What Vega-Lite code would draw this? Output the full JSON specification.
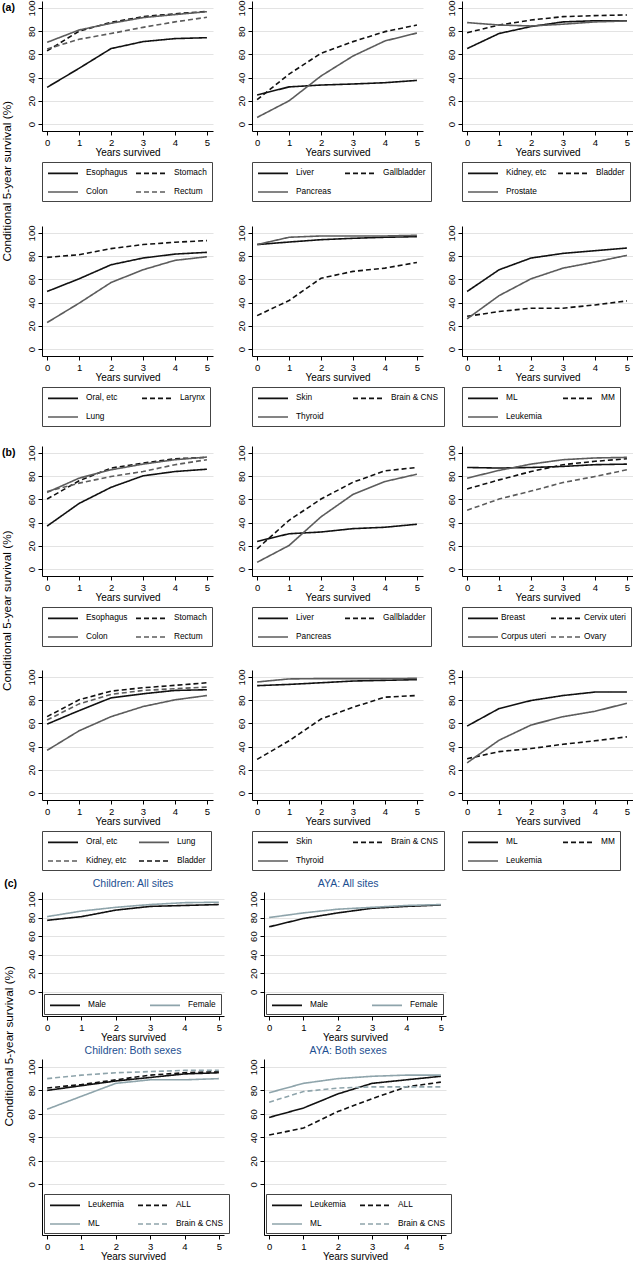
{
 "$schema": "https://vega.github.io/schema/vega-lite/v6.json",
 "padding": {"left": 2, "top": 0, "right": 0, "bottom": 0},
 "background": "white",
 "spacing": 18,
 "resolve": {"scale": {"color": "independent", "strokeDash": "independent"}},
 "config": {
  "font": "Liberation Sans",
  "view": {"stroke": null},
  "axis": {"domainColor": "#000", "tickColor": "#000", "labelColor": "#000", "titleColor": "#000", "labelFontSize": 9.5, "titleFontSize": 10, "titleFontWeight": "normal", "tickSize": 4, "labelPadding": 2, "domainWidth": 1, "tickWidth": 1, "gridColor": "#e3e3e3", "gridWidth": 1},
  "axisX": {"grid": false, "titlePadding": 1},
  "axisY": {"grid": true, "labelAngle": 270},
  "legend": {"labelFontSize": 8.3, "labelColor": "#000", "symbolSize": 100, "symbolStrokeWidth": 1.6, "strokeColor": "#444", "fillColor": "#fff", "padding": 5, "rowPadding": 9, "labelOffset": 27, "offset": 4, "labelLimit": 200},
  "line": {"strokeWidth": 1.6}
 },
 "datasets": {
  "a1": [
   {"s":"Esophagus","x":0,"y":31.6},{"s":"Esophagus","x":1,"y":48},{"s":"Esophagus","x":2,"y":65},{"s":"Esophagus","x":3,"y":71},{"s":"Esophagus","x":4,"y":73.6},{"s":"Esophagus","x":5,"y":74.4},
   {"s":"Stomach","x":0,"y":63},{"s":"Stomach","x":1,"y":80},{"s":"Stomach","x":2,"y":87.6},{"s":"Stomach","x":3,"y":92.5},{"s":"Stomach","x":4,"y":95},{"s":"Stomach","x":5,"y":97},
   {"s":"Colon","x":0,"y":70.4},{"s":"Colon","x":1,"y":81},{"s":"Colon","x":2,"y":86.8},{"s":"Colon","x":3,"y":91.7},{"s":"Colon","x":4,"y":94.3},{"s":"Colon","x":5,"y":96.8},
   {"s":"Rectum","x":0,"y":64.7},{"s":"Rectum","x":1,"y":73},{"s":"Rectum","x":2,"y":78},{"s":"Rectum","x":3,"y":83.3},{"s":"Rectum","x":4,"y":88},{"s":"Rectum","x":5,"y":92}
  ],
  "a2": [
   {"s":"Liver","x":0,"y":25},{"s":"Liver","x":1,"y":32},{"s":"Liver","x":2,"y":33.6},{"s":"Liver","x":3,"y":34.5},{"s":"Liver","x":4,"y":35.6},{"s":"Liver","x":5,"y":37.6},
   {"s":"Gallbladder","x":0,"y":21},{"s":"Gallbladder","x":1,"y":43},{"s":"Gallbladder","x":2,"y":61},{"s":"Gallbladder","x":3,"y":71},{"s":"Gallbladder","x":4,"y":79.6},{"s":"Gallbladder","x":5,"y":85.3},
   {"s":"Pancreas","x":0,"y":5.7},{"s":"Pancreas","x":1,"y":20},{"s":"Pancreas","x":2,"y":41.4},{"s":"Pancreas","x":3,"y":58.6},{"s":"Pancreas","x":4,"y":71.6},{"s":"Pancreas","x":5,"y":78.4}
  ],
  "a3": [
   {"s":"Kidney, etc","x":0,"y":65},{"s":"Kidney, etc","x":1,"y":78},{"s":"Kidney, etc","x":2,"y":84},{"s":"Kidney, etc","x":3,"y":88},{"s":"Kidney, etc","x":4,"y":89},{"s":"Kidney, etc","x":5,"y":89},
   {"s":"Bladder","x":0,"y":78.7},{"s":"Bladder","x":1,"y":85.3},{"s":"Bladder","x":2,"y":89.6},{"s":"Bladder","x":3,"y":92.5},{"s":"Bladder","x":4,"y":93.4},{"s":"Bladder","x":5,"y":94},
   {"s":"Prostate","x":0,"y":87.4},{"s":"Prostate","x":1,"y":85.3},{"s":"Prostate","x":2,"y":84.5},{"s":"Prostate","x":3,"y":86},{"s":"Prostate","x":4,"y":88},{"s":"Prostate","x":5,"y":88.8}
  ],
  "a4": [
   {"s":"Oral, etc","x":0,"y":49.6},{"s":"Oral, etc","x":1,"y":60.5},{"s":"Oral, etc","x":2,"y":72.6},{"s":"Oral, etc","x":3,"y":78.4},{"s":"Oral, etc","x":4,"y":81.8},{"s":"Oral, etc","x":5,"y":83.3},
   {"s":"Larynx","x":0,"y":79},{"s":"Larynx","x":1,"y":81.3},{"s":"Larynx","x":2,"y":86.5},{"s":"Larynx","x":3,"y":90},{"s":"Larynx","x":4,"y":92},{"s":"Larynx","x":5,"y":93.4},
   {"s":"Lung","x":0,"y":22.8},{"s":"Lung","x":1,"y":39.5},{"s":"Lung","x":2,"y":57.3},{"s":"Lung","x":3,"y":68.3},{"s":"Lung","x":4,"y":76.4},{"s":"Lung","x":5,"y":79.5}
  ],
  "a5": [
   {"s":"Skin","x":0,"y":90},{"s":"Skin","x":1,"y":92.2},{"s":"Skin","x":2,"y":94.2},{"s":"Skin","x":3,"y":95.4},{"s":"Skin","x":4,"y":96.3},{"s":"Skin","x":5,"y":96.8},
   {"s":"Brain & CNS","x":0,"y":28.8},{"s":"Brain & CNS","x":1,"y":41.8},{"s":"Brain & CNS","x":2,"y":61},{"s":"Brain & CNS","x":3,"y":66.9},{"s":"Brain & CNS","x":4,"y":69.7},{"s":"Brain & CNS","x":5,"y":74.6},
   {"s":"Thyroid","x":0,"y":90},{"s":"Thyroid","x":1,"y":96.3},{"s":"Thyroid","x":2,"y":97.4},{"s":"Thyroid","x":3,"y":97.4},{"s":"Thyroid","x":4,"y":97.4},{"s":"Thyroid","x":5,"y":98}
  ],
  "a6": [
   {"s":"ML","x":0,"y":49.6},{"s":"ML","x":1,"y":68.3},{"s":"ML","x":2,"y":78.4},{"s":"ML","x":3,"y":82.4},{"s":"ML","x":4,"y":84.7},{"s":"ML","x":5,"y":87},
   {"s":"MM","x":0,"y":28.2},{"s":"MM","x":1,"y":32.3},{"s":"MM","x":2,"y":35.2},{"s":"MM","x":3,"y":35.2},{"s":"MM","x":4,"y":38},{"s":"MM","x":5,"y":41.5},
   {"s":"Leukemia","x":0,"y":26},{"s":"Leukemia","x":1,"y":46},{"s":"Leukemia","x":2,"y":60.5},{"s":"Leukemia","x":3,"y":69.7},{"s":"Leukemia","x":4,"y":75},{"s":"Leukemia","x":5,"y":80.7}
  ],
  "b1": [
   {"s":"Esophagus","x":0,"y":37},{"s":"Esophagus","x":1,"y":56.5},{"s":"Esophagus","x":2,"y":70.4},{"s":"Esophagus","x":3,"y":80.3},{"s":"Esophagus","x":4,"y":84},{"s":"Esophagus","x":5,"y":86},
   {"s":"Stomach","x":0,"y":60.3},{"s":"Stomach","x":1,"y":76},{"s":"Stomach","x":2,"y":87},{"s":"Stomach","x":3,"y":91.3},{"s":"Stomach","x":4,"y":95},{"s":"Stomach","x":5,"y":96.2},
   {"s":"Colon","x":0,"y":66},{"s":"Colon","x":1,"y":78.3},{"s":"Colon","x":2,"y":85.5},{"s":"Colon","x":3,"y":90.4},{"s":"Colon","x":4,"y":94.2},{"s":"Colon","x":5,"y":96.5},
   {"s":"Rectum","x":0,"y":66.7},{"s":"Rectum","x":1,"y":74},{"s":"Rectum","x":2,"y":79.7},{"s":"Rectum","x":3,"y":84},{"s":"Rectum","x":4,"y":89.9},{"s":"Rectum","x":5,"y":94.2}
  ],
  "b2": [
   {"s":"Liver","x":0,"y":23.8},{"s":"Liver","x":1,"y":30.4},{"s":"Liver","x":2,"y":31.9},{"s":"Liver","x":3,"y":34.8},{"s":"Liver","x":4,"y":36},{"s":"Liver","x":5,"y":38.6},
   {"s":"Gallbladder","x":0,"y":17.4},{"s":"Gallbladder","x":1,"y":42},{"s":"Gallbladder","x":2,"y":60.3},{"s":"Gallbladder","x":3,"y":74.8},{"s":"Gallbladder","x":4,"y":84.6},{"s":"Gallbladder","x":5,"y":87.5},
   {"s":"Pancreas","x":0,"y":5.8},{"s":"Pancreas","x":1,"y":20.3},{"s":"Pancreas","x":2,"y":45},{"s":"Pancreas","x":3,"y":64.3},{"s":"Pancreas","x":4,"y":75.4},{"s":"Pancreas","x":5,"y":81.7}
  ],
  "b3": [
   {"s":"Breast","x":0,"y":87.5},{"s":"Breast","x":1,"y":87},{"s":"Breast","x":2,"y":87.5},{"s":"Breast","x":3,"y":88.4},{"s":"Breast","x":4,"y":89.9},{"s":"Breast","x":5,"y":90.4},
   {"s":"Cervix uteri","x":0,"y":69},{"s":"Cervix uteri","x":1,"y":76.8},{"s":"Cervix uteri","x":2,"y":84},{"s":"Cervix uteri","x":3,"y":89.9},{"s":"Cervix uteri","x":4,"y":92.8},{"s":"Cervix uteri","x":5,"y":95},
   {"s":"Corpus uteri","x":0,"y":78.3},{"s":"Corpus uteri","x":1,"y":85},{"s":"Corpus uteri","x":2,"y":90.4},{"s":"Corpus uteri","x":3,"y":94.2},{"s":"Corpus uteri","x":4,"y":95.7},{"s":"Corpus uteri","x":5,"y":96.2},
   {"s":"Ovary","x":0,"y":50.7},{"s":"Ovary","x":1,"y":60.3},{"s":"Ovary","x":2,"y":67.2},{"s":"Ovary","x":3,"y":74.5},{"s":"Ovary","x":4,"y":79.7},{"s":"Ovary","x":5,"y":85.5}
  ],
  "b4": [
   {"s":"Oral, etc","x":0,"y":59.4},{"s":"Oral, etc","x":1,"y":71},{"s":"Oral, etc","x":2,"y":82},{"s":"Oral, etc","x":3,"y":85.5},{"s":"Oral, etc","x":4,"y":88.4},{"s":"Oral, etc","x":5,"y":89},
   {"s":"Lung","x":0,"y":36.8},{"s":"Lung","x":1,"y":53.6},{"s":"Lung","x":2,"y":65.8},{"s":"Lung","x":3,"y":74.5},{"s":"Lung","x":4,"y":80.3},{"s":"Lung","x":5,"y":84},
   {"s":"Kidney, etc","x":0,"y":62.9},{"s":"Kidney, etc","x":1,"y":76.8},{"s":"Kidney, etc","x":2,"y":85},{"s":"Kidney, etc","x":3,"y":88.4},{"s":"Kidney, etc","x":4,"y":89.9},{"s":"Kidney, etc","x":5,"y":91.3},
   {"s":"Bladder","x":0,"y":65.8},{"s":"Bladder","x":1,"y":80.3},{"s":"Bladder","x":2,"y":87.8},{"s":"Bladder","x":3,"y":90.7},{"s":"Bladder","x":4,"y":92.8},{"s":"Bladder","x":5,"y":95}
  ],
  "b5": [
   {"s":"Skin","x":0,"y":92.5},{"s":"Skin","x":1,"y":93.6},{"s":"Skin","x":2,"y":95},{"s":"Skin","x":3,"y":96.5},{"s":"Skin","x":4,"y":97.1},{"s":"Skin","x":5,"y":97.7},
   {"s":"Brain & CNS","x":0,"y":29},{"s":"Brain & CNS","x":1,"y":45},{"s":"Brain & CNS","x":2,"y":63.8},{"s":"Brain & CNS","x":3,"y":73.9},{"s":"Brain & CNS","x":4,"y":82.6},{"s":"Brain & CNS","x":5,"y":84},
   {"s":"Thyroid","x":0,"y":95.7},{"s":"Thyroid","x":1,"y":98.3},{"s":"Thyroid","x":2,"y":98.6},{"s":"Thyroid","x":3,"y":98.6},{"s":"Thyroid","x":4,"y":98.6},{"s":"Thyroid","x":5,"y":98.8}
  ],
  "b6": [
   {"s":"ML","x":0,"y":57.7},{"s":"ML","x":1,"y":72.8},{"s":"ML","x":2,"y":79.7},{"s":"ML","x":3,"y":84},{"s":"ML","x":4,"y":87},{"s":"ML","x":5,"y":87},
   {"s":"MM","x":0,"y":29.6},{"s":"MM","x":1,"y":35.7},{"s":"MM","x":2,"y":38.3},{"s":"MM","x":3,"y":42},{"s":"MM","x":4,"y":45},{"s":"MM","x":5,"y":48.4},
   {"s":"Leukemia","x":0,"y":26},{"s":"Leukemia","x":1,"y":45.5},{"s":"Leukemia","x":2,"y":58.6},{"s":"Leukemia","x":3,"y":65.8},{"s":"Leukemia","x":4,"y":70.4},{"s":"Leukemia","x":5,"y":77.4}
  ],
  "c1": [
   {"s":"Male","x":0,"y":77},{"s":"Male","x":1,"y":81},{"s":"Male","x":2,"y":88},{"s":"Male","x":3,"y":92},{"s":"Male","x":4,"y":93},{"s":"Male","x":5,"y":94},
   {"s":"Female","x":0,"y":81},{"s":"Female","x":1,"y":87},{"s":"Female","x":2,"y":91},{"s":"Female","x":3,"y":94},{"s":"Female","x":4,"y":96},{"s":"Female","x":5,"y":96.5}
  ],
  "c2": [
   {"s":"Male","x":0,"y":70},{"s":"Male","x":1,"y":79},{"s":"Male","x":2,"y":85},{"s":"Male","x":3,"y":90},{"s":"Male","x":4,"y":92},{"s":"Male","x":5,"y":93.5},
   {"s":"Female","x":0,"y":80},{"s":"Female","x":1,"y":85},{"s":"Female","x":2,"y":89},{"s":"Female","x":3,"y":91},{"s":"Female","x":4,"y":93},{"s":"Female","x":5,"y":94}
  ],
  "c3": [
   {"s":"Leukemia","x":0,"y":80},{"s":"Leukemia","x":1,"y":84},{"s":"Leukemia","x":2,"y":88},{"s":"Leukemia","x":3,"y":91},{"s":"Leukemia","x":4,"y":94},{"s":"Leukemia","x":5,"y":95},
   {"s":"ALL","x":0,"y":82},{"s":"ALL","x":1,"y":85},{"s":"ALL","x":2,"y":89},{"s":"ALL","x":3,"y":93},{"s":"ALL","x":4,"y":95},{"s":"ALL","x":5,"y":96},
   {"s":"ML","x":0,"y":64},{"s":"ML","x":1,"y":75},{"s":"ML","x":2,"y":86},{"s":"ML","x":3,"y":89},{"s":"ML","x":4,"y":89},{"s":"ML","x":5,"y":90},
   {"s":"Brain & CNS","x":0,"y":90},{"s":"Brain & CNS","x":1,"y":93},{"s":"Brain & CNS","x":2,"y":95},{"s":"Brain & CNS","x":3,"y":96},{"s":"Brain & CNS","x":4,"y":97},{"s":"Brain & CNS","x":5,"y":97}
  ],
  "c4": [
   {"s":"Leukemia","x":0,"y":57},{"s":"Leukemia","x":1,"y":65},{"s":"Leukemia","x":2,"y":77},{"s":"Leukemia","x":3,"y":86},{"s":"Leukemia","x":4,"y":89},{"s":"Leukemia","x":5,"y":92},
   {"s":"ALL","x":0,"y":42},{"s":"ALL","x":1,"y":48},{"s":"ALL","x":2,"y":62},{"s":"ALL","x":3,"y":73},{"s":"ALL","x":4,"y":83},{"s":"ALL","x":5,"y":87},
   {"s":"ML","x":0,"y":78},{"s":"ML","x":1,"y":86},{"s":"ML","x":2,"y":90},{"s":"ML","x":3,"y":92},{"s":"ML","x":4,"y":93},{"s":"ML","x":5,"y":93},
   {"s":"Brain & CNS","x":0,"y":70},{"s":"Brain & CNS","x":1,"y":79},{"s":"Brain & CNS","x":2,"y":82},{"s":"Brain & CNS","x":3,"y":83},{"s":"Brain & CNS","x":4,"y":83},{"s":"Brain & CNS","x":5,"y":83}
  ],
  "one": [{"label": "x"}]
 },
 "vconcat": [
  {
   "spacing": 23,
   "title": {"text": "Conditional 5-year survival (%)", "orient": "left", "anchor": "middle", "fontSize": 11.8, "fontWeight": "normal", "color": "#000", "offset": -12, "dx": 32},
   "resolve": {"scale": {"color": "independent", "strokeDash": "independent"}},
   "vconcat": [
    {"bounds": "flush", "spacing": 39, "resolve": {"scale": {"color": "independent", "strokeDash": "independent"}}, "hconcat": [
     {"width": 171, "height": 130, "layer": [
      {"data": {"name": "a1"}, "mark": "line", "encoding": {
       "x": {"field": "x", "type": "quantitative", "scale": {"domain": [-0.16, 5.19], "nice": false, "zero": false}, "axis": {"values": [0,1,2,3,4,5], "title": "Years survived"}},
       "y": {"field": "y", "type": "quantitative", "scale": {"domain": [-6, 106], "nice": false, "zero": false}, "axis": {"values": [0,20,40,60,80,100], "title": null}},
       "strokeWidth": {"condition": {"test": "indexof(['Esophagus','Stomach'], datum.s) >= 0", "value": 2}, "value": 1.3},
       "color": {"field": "s", "type": "nominal", "scale": {"domain": ["Esophagus","Stomach","Colon","Rectum"], "range": ["#111","#111","#5c5c5c","#5c5c5c"]}, "legend": {"title": null, "orient": "bottom", "direction": "horizontal", "columns": 2, "columnPadding": 4, "symbolType": "M-1,0H5"}},
       "strokeDash": {"field": "s", "type": "nominal", "scale": {"domain": ["Esophagus","Stomach","Colon","Rectum"], "range": [[1,0],[5,3],[1,0],[5,3]]}, "legend": {"title": null, "orient": "bottom", "direction": "horizontal", "columns": 2, "columnPadding": 4, "symbolType": "M-1,0H5"}}
      }},
      {"data": {"name": "one"}, "mark": {"type": "text", "text": "(a)", "fontWeight": "bold", "fontSize": 10.5, "align": "left", "baseline": "middle"}, "encoding": {
       "x": {"datum": -1.41, "type": "quantitative", "scale": {"domain": [-0.16, 5.19], "nice": false, "zero": false}, "axis": {"values": [0,1,2,3,4,5], "title": "Years survived"}},
       "y": {"datum": 100, "type": "quantitative", "scale": {"domain": [-6, 106], "nice": false, "zero": false}, "axis": {"values": [0,20,40,60,80,100], "title": null}}
      }}
     ]},
     {"width": 171, "height": 130, "data": {"name": "a2"}, "mark": "line", "encoding": {
       "x": {"field": "x", "type": "quantitative", "scale": {"domain": [-0.16, 5.19], "nice": false, "zero": false}, "axis": {"values": [0,1,2,3,4,5], "title": "Years survived"}},
       "y": {"field": "y", "type": "quantitative", "scale": {"domain": [-6, 106], "nice": false, "zero": false}, "axis": {"values": [0,20,40,60,80,100], "title": null}},
       "strokeWidth": {"condition": {"test": "indexof(['Liver','Gallbladder'], datum.s) >= 0", "value": 2}, "value": 1.3},
       "color": {"field": "s", "type": "nominal", "scale": {"domain": ["Liver","Gallbladder","Pancreas"], "range": ["#111","#111","#5c5c5c"]}, "legend": {"title": null, "orient": "bottom", "direction": "horizontal", "columns": 2, "columnPadding": 9, "symbolType": "M-1,0H5"}},
       "strokeDash": {"field": "s", "type": "nominal", "scale": {"domain": ["Liver","Gallbladder","Pancreas"], "range": [[1,0],[5,3],[1,0]]}, "legend": {"title": null, "orient": "bottom", "direction": "horizontal", "columns": 2, "columnPadding": 9, "symbolType": "M-1,0H5"}}
     }},
     {"width": 171, "height": 130, "data": {"name": "a3"}, "mark": "line", "encoding": {
       "x": {"field": "x", "type": "quantitative", "scale": {"domain": [-0.16, 5.19], "nice": false, "zero": false}, "axis": {"values": [0,1,2,3,4,5], "title": "Years survived"}},
       "y": {"field": "y", "type": "quantitative", "scale": {"domain": [-6, 106], "nice": false, "zero": false}, "axis": {"values": [0,20,40,60,80,100], "title": null}},
       "strokeWidth": {"condition": {"test": "indexof(['Kidney, etc','Bladder'], datum.s) >= 0", "value": 2}, "value": 1.3},
       "color": {"field": "s", "type": "nominal", "scale": {"domain": ["Kidney, etc","Bladder","Prostate"], "range": ["#111","#111","#5c5c5c"]}, "legend": {"title": null, "orient": "bottom", "direction": "horizontal", "columns": 2, "columnPadding": 7, "symbolType": "M-1,0H5"}},
       "strokeDash": {"field": "s", "type": "nominal", "scale": {"domain": ["Kidney, etc","Bladder","Prostate"], "range": [[1,0],[5,3],[1,0]]}, "legend": {"title": null, "orient": "bottom", "direction": "horizontal", "columns": 2, "columnPadding": 7, "symbolType": "M-1,0H5"}}
     }}
    ]},
    {"bounds": "flush", "spacing": 39, "resolve": {"scale": {"color": "independent", "strokeDash": "independent"}}, "hconcat": [
     {"width": 171, "height": 130, "data": {"name": "a4"}, "mark": "line", "encoding": {
       "x": {"field": "x", "type": "quantitative", "scale": {"domain": [-0.16, 5.19], "nice": false, "zero": false}, "axis": {"values": [0,1,2,3,4,5], "title": "Years survived"}},
       "y": {"field": "y", "type": "quantitative", "scale": {"domain": [-6, 106], "nice": false, "zero": false}, "axis": {"values": [0,20,40,60,80,100], "title": null}},
       "strokeWidth": {"condition": {"test": "indexof(['Oral, etc','Larynx'], datum.s) >= 0", "value": 2}, "value": 1.3},
       "color": {"field": "s", "type": "nominal", "scale": {"domain": ["Oral, etc","Larynx","Lung"], "range": ["#111","#111","#5c5c5c"]}, "legend": {"title": null, "orient": "bottom", "direction": "horizontal", "columns": 2, "columnPadding": 20, "symbolType": "M-1,0H5"}},
       "strokeDash": {"field": "s", "type": "nominal", "scale": {"domain": ["Oral, etc","Larynx","Lung"], "range": [[1,0],[5,3],[1,0]]}, "legend": {"title": null, "orient": "bottom", "direction": "horizontal", "columns": 2, "columnPadding": 20, "symbolType": "M-1,0H5"}}
     }},
     {"width": 171, "height": 130, "data": {"name": "a5"}, "mark": "line", "encoding": {
       "x": {"field": "x", "type": "quantitative", "scale": {"domain": [-0.16, 5.19], "nice": false, "zero": false}, "axis": {"values": [0,1,2,3,4,5], "title": "Years survived"}},
       "y": {"field": "y", "type": "quantitative", "scale": {"domain": [-6, 106], "nice": false, "zero": false}, "axis": {"values": [0,20,40,60,80,100], "title": null}},
       "strokeWidth": {"condition": {"test": "indexof(['Skin','Brain & CNS'], datum.s) >= 0", "value": 2}, "value": 1.3},
       "color": {"field": "s", "type": "nominal", "scale": {"domain": ["Skin","Brain & CNS","Thyroid"], "range": ["#111","#111","#5c5c5c"]}, "legend": {"title": null, "orient": "bottom", "direction": "horizontal", "columns": 2, "columnPadding": 25, "symbolType": "M-1,0H5"}},
       "strokeDash": {"field": "s", "type": "nominal", "scale": {"domain": ["Skin","Brain & CNS","Thyroid"], "range": [[1,0],[5,3],[1,0]]}, "legend": {"title": null, "orient": "bottom", "direction": "horizontal", "columns": 2, "columnPadding": 25, "symbolType": "M-1,0H5"}}
     }},
     {"width": 171, "height": 130, "data": {"name": "a6"}, "mark": "line", "encoding": {
       "x": {"field": "x", "type": "quantitative", "scale": {"domain": [-0.16, 5.19], "nice": false, "zero": false}, "axis": {"values": [0,1,2,3,4,5], "title": "Years survived"}},
       "y": {"field": "y", "type": "quantitative", "scale": {"domain": [-6, 106], "nice": false, "zero": false}, "axis": {"values": [0,20,40,60,80,100], "title": null}},
       "strokeWidth": {"condition": {"test": "indexof(['ML','MM'], datum.s) >= 0", "value": 2}, "value": 1.3},
       "color": {"field": "s", "type": "nominal", "scale": {"domain": ["ML","MM","Leukemia"], "range": ["#111","#111","#5c5c5c"]}, "legend": {"title": null, "orient": "bottom", "direction": "horizontal", "columns": 2, "columnPadding": 17, "symbolType": "M-1,0H5"}},
       "strokeDash": {"field": "s", "type": "nominal", "scale": {"domain": ["ML","MM","Leukemia"], "range": [[1,0],[5,3],[1,0]]}, "legend": {"title": null, "orient": "bottom", "direction": "horizontal", "columns": 2, "columnPadding": 17, "symbolType": "M-1,0H5"}}
     }}
    ]}
   ]
  },
  {
   "spacing": 8,
   "resolve": {"scale": {"color": "independent", "strokeDash": "independent"}},
   "vconcat": [
    {
     "spacing": 22,
     "title": {"text": "Conditional 5-year survival (%)", "orient": "left", "anchor": "middle", "fontSize": 11.8, "fontWeight": "normal", "color": "#000", "offset": -12, "dx": 47},
     "resolve": {"scale": {"color": "independent", "strokeDash": "independent"}},
     "vconcat": [
      {"bounds": "flush", "spacing": 39, "resolve": {"scale": {"color": "independent", "strokeDash": "independent"}}, "hconcat": [
       {"width": 171, "height": 130, "layer": [
        {"data": {"name": "b1"}, "mark": "line", "encoding": {
         "x": {"field": "x", "type": "quantitative", "scale": {"domain": [-0.16, 5.19], "nice": false, "zero": false}, "axis": {"values": [0,1,2,3,4,5], "title": "Years survived"}},
         "y": {"field": "y", "type": "quantitative", "scale": {"domain": [-6, 106], "nice": false, "zero": false}, "axis": {"values": [0,20,40,60,80,100], "title": null}},
         "strokeWidth": {"condition": {"test": "indexof(['Esophagus','Stomach'], datum.s) >= 0", "value": 2}, "value": 1.3},
         "color": {"field": "s", "type": "nominal", "scale": {"domain": ["Esophagus","Stomach","Colon","Rectum"], "range": ["#111","#111","#5c5c5c","#5c5c5c"]}, "legend": {"title": null, "orient": "bottom", "direction": "horizontal", "columns": 2, "columnPadding": 4, "symbolType": "M-1,0H5"}},
         "strokeDash": {"field": "s", "type": "nominal", "scale": {"domain": ["Esophagus","Stomach","Colon","Rectum"], "range": [[1,0],[5,3],[1,0],[5,3]]}, "legend": {"title": null, "orient": "bottom", "direction": "horizontal", "columns": 2, "columnPadding": 4, "symbolType": "M-1,0H5"}}
        }},
        {"data": {"name": "one"}, "mark": {"type": "text", "text": "(b)", "fontWeight": "bold", "fontSize": 10.5, "align": "left", "baseline": "middle"}, "encoding": {
         "x": {"datum": -1.41, "type": "quantitative", "scale": {"domain": [-0.16, 5.19], "nice": false, "zero": false}, "axis": {"values": [0,1,2,3,4,5], "title": "Years survived"}},
         "y": {"datum": 100, "type": "quantitative", "scale": {"domain": [-6, 106], "nice": false, "zero": false}, "axis": {"values": [0,20,40,60,80,100], "title": null}}
        }}
       ]},
       {"width": 171, "height": 130, "data": {"name": "b2"}, "mark": "line", "encoding": {
         "x": {"field": "x", "type": "quantitative", "scale": {"domain": [-0.16, 5.19], "nice": false, "zero": false}, "axis": {"values": [0,1,2,3,4,5], "title": "Years survived"}},
         "y": {"field": "y", "type": "quantitative", "scale": {"domain": [-6, 106], "nice": false, "zero": false}, "axis": {"values": [0,20,40,60,80,100], "title": null}},
         "strokeWidth": {"condition": {"test": "indexof(['Liver','Gallbladder'], datum.s) >= 0", "value": 2}, "value": 1.3},
         "color": {"field": "s", "type": "nominal", "scale": {"domain": ["Liver","Gallbladder","Pancreas"], "range": ["#111","#111","#5c5c5c"]}, "legend": {"title": null, "orient": "bottom", "direction": "horizontal", "columns": 2, "columnPadding": 9, "symbolType": "M-1,0H5"}},
         "strokeDash": {"field": "s", "type": "nominal", "scale": {"domain": ["Liver","Gallbladder","Pancreas"], "range": [[1,0],[5,3],[1,0]]}, "legend": {"title": null, "orient": "bottom", "direction": "horizontal", "columns": 2, "columnPadding": 9, "symbolType": "M-1,0H5"}}
       }},
       {"width": 171, "height": 130, "data": {"name": "b3"}, "mark": "line", "encoding": {
         "x": {"field": "x", "type": "quantitative", "scale": {"domain": [-0.16, 5.19], "nice": false, "zero": false}, "axis": {"values": [0,1,2,3,4,5], "title": "Years survived"}},
         "y": {"field": "y", "type": "quantitative", "scale": {"domain": [-6, 106], "nice": false, "zero": false}, "axis": {"values": [0,20,40,60,80,100], "title": null}},
         "strokeWidth": {"condition": {"test": "indexof(['Breast','Cervix uteri'], datum.s) >= 0", "value": 2}, "value": 1.3},
         "color": {"field": "s", "type": "nominal", "scale": {"domain": ["Breast","Cervix uteri","Corpus uteri","Ovary"], "range": ["#111","#111","#5c5c5c","#5c5c5c"]}, "legend": {"title": null, "orient": "bottom", "direction": "horizontal", "columns": 2, "columnPadding": 0, "labelOffset": 22, "symbolType": "M-1,0H5"}},
         "strokeDash": {"field": "s", "type": "nominal", "scale": {"domain": ["Breast","Cervix uteri","Corpus uteri","Ovary"], "range": [[1,0],[5,3],[1,0],[5,3]]}, "legend": {"title": null, "orient": "bottom", "direction": "horizontal", "columns": 2, "columnPadding": 0, "labelOffset": 22, "symbolType": "M-1,0H5"}}
       }}
      ]},
      {"bounds": "flush", "spacing": 39, "resolve": {"scale": {"color": "independent", "strokeDash": "independent"}}, "hconcat": [
       {"width": 171, "height": 130, "data": {"name": "b4"}, "mark": "line", "encoding": {
         "x": {"field": "x", "type": "quantitative", "scale": {"domain": [-0.16, 5.19], "nice": false, "zero": false}, "axis": {"values": [0,1,2,3,4,5], "title": "Years survived"}},
         "y": {"field": "y", "type": "quantitative", "scale": {"domain": [-6, 106], "nice": false, "zero": false}, "axis": {"values": [0,20,40,60,80,100], "title": null}},
         "strokeWidth": {"condition": {"test": "indexof(['Oral, etc','Bladder'], datum.s) >= 0", "value": 2}, "value": 1.3},
         "color": {"field": "s", "type": "nominal", "scale": {"domain": ["Oral, etc","Lung","Kidney, etc","Bladder"], "range": ["#111","#5c5c5c","#5c5c5c","#111"]}, "legend": {"title": null, "orient": "bottom", "direction": "horizontal", "columns": 2, "columnPadding": 8, "symbolType": "M-1,0H5"}},
         "strokeDash": {"field": "s", "type": "nominal", "scale": {"domain": ["Oral, etc","Lung","Kidney, etc","Bladder"], "range": [[1,0],[1,0],[5,3],[5,3]]}, "legend": {"title": null, "orient": "bottom", "direction": "horizontal", "columns": 2, "columnPadding": 8, "symbolType": "M-1,0H5"}}
       }},
       {"width": 171, "height": 130, "data": {"name": "b5"}, "mark": "line", "encoding": {
         "x": {"field": "x", "type": "quantitative", "scale": {"domain": [-0.16, 5.19], "nice": false, "zero": false}, "axis": {"values": [0,1,2,3,4,5], "title": "Years survived"}},
         "y": {"field": "y", "type": "quantitative", "scale": {"domain": [-6, 106], "nice": false, "zero": false}, "axis": {"values": [0,20,40,60,80,100], "title": null}},
         "strokeWidth": {"condition": {"test": "indexof(['Skin','Brain & CNS'], datum.s) >= 0", "value": 2}, "value": 1.3},
         "color": {"field": "s", "type": "nominal", "scale": {"domain": ["Skin","Brain & CNS","Thyroid"], "range": ["#111","#111","#5c5c5c"]}, "legend": {"title": null, "orient": "bottom", "direction": "horizontal", "columns": 2, "columnPadding": 25, "symbolType": "M-1,0H5"}},
         "strokeDash": {"field": "s", "type": "nominal", "scale": {"domain": ["Skin","Brain & CNS","Thyroid"], "range": [[1,0],[5,3],[1,0]]}, "legend": {"title": null, "orient": "bottom", "direction": "horizontal", "columns": 2, "columnPadding": 25, "symbolType": "M-1,0H5"}}
       }},
       {"width": 171, "height": 130, "data": {"name": "b6"}, "mark": "line", "encoding": {
         "x": {"field": "x", "type": "quantitative", "scale": {"domain": [-0.16, 5.19], "nice": false, "zero": false}, "axis": {"values": [0,1,2,3,4,5], "title": "Years survived"}},
         "y": {"field": "y", "type": "quantitative", "scale": {"domain": [-6, 106], "nice": false, "zero": false}, "axis": {"values": [0,20,40,60,80,100], "title": null}},
         "strokeWidth": {"condition": {"test": "indexof(['ML','MM'], datum.s) >= 0", "value": 2}, "value": 1.3},
         "color": {"field": "s", "type": "nominal", "scale": {"domain": ["ML","MM","Leukemia"], "range": ["#111","#111","#5c5c5c"]}, "legend": {"title": null, "orient": "bottom", "direction": "horizontal", "columns": 2, "columnPadding": 17, "symbolType": "M-1,0H5"}},
         "strokeDash": {"field": "s", "type": "nominal", "scale": {"domain": ["ML","MM","Leukemia"], "range": [[1,0],[5,3],[1,0]]}, "legend": {"title": null, "orient": "bottom", "direction": "horizontal", "columns": 2, "columnPadding": 17, "symbolType": "M-1,0H5"}}
       }}
      ]}
     ]
    },
    {
     "spacing": 3,
     "title": {"text": "Conditional 5-year survival (%)", "orient": "left", "anchor": "middle", "fontSize": 11.8, "fontWeight": "normal", "color": "#000", "offset": -12, "dx": 24},
     "resolve": {"scale": {"color": "independent", "strokeDash": "independent"}},
     "vconcat": [
      {"bounds": "flush", "spacing": 40, "resolve": {"scale": {"color": "independent", "strokeDash": "independent"}}, "hconcat": [
       {"width": 182, "height": 124, "layer": [
        {"data": {"name": "c1"}, "mark": "line", "encoding": {
         "x": {"field": "x", "type": "quantitative", "scale": {"domain": [-0.15, 5.15], "nice": false, "zero": false}, "axis": {"values": [0,1,2,3,4,5], "title": "Years survived"}},
         "y": {"field": "y", "type": "quantitative", "scale": {"domain": [-26, 107.5], "nice": false, "zero": false}, "axis": {"values": [0,20,40,60,80,100], "title": null}},
         "strokeWidth": {"condition": {"test": "datum.s == 'Male'", "value": 2}, "value": 1.6},
         "color": {"field": "s", "type": "nominal", "scale": {"domain": ["Male","Female"], "range": ["#111","#8ea4ab"]}, "legend": {"title": null, "orient": "bottom-left", "offset": 2, "direction": "horizontal", "columns": 2, "columnPadding": 40, "symbolType": "M-1,0H5"}},
         "strokeDash": {"field": "s", "type": "nominal", "scale": {"domain": ["Male","Female"], "range": [[1,0],[1,0]]}, "legend": {"title": null, "orient": "bottom-left", "offset": 2, "direction": "horizontal", "columns": 2, "columnPadding": 40, "symbolType": "M-1,0H5"}}
        }},
        {"data": {"name": "one"}, "mark": {"type": "text", "text": "(c)", "fontWeight": "bold", "fontSize": 10.5, "align": "left", "baseline": "middle"}, "encoding": {
         "x": {"datum": -1.25, "type": "quantitative", "scale": {"domain": [-0.15, 5.15], "nice": false, "zero": false}, "axis": {"values": [0,1,2,3,4,5], "title": "Years survived"}},
         "y": {"datum": 116, "type": "quantitative", "scale": {"domain": [-26, 107.5], "nice": false, "zero": false}, "axis": {"values": [0,20,40,60,80,100], "title": null}}
        }},
        {"data": {"name": "one"}, "mark": {"type": "text", "text": "Children: All sites", "color": "#1d4f91", "fontSize": 10.5, "align": "center", "baseline": "middle"}, "encoding": {
         "x": {"datum": 2.5, "type": "quantitative", "scale": {"domain": [-0.15, 5.15], "nice": false, "zero": false}, "axis": {"values": [0,1,2,3,4,5], "title": "Years survived"}},
         "y": {"datum": 116, "type": "quantitative", "scale": {"domain": [-26, 107.5], "nice": false, "zero": false}, "axis": {"values": [0,20,40,60,80,100], "title": null}}
        }}
       ]},
       {"width": 182, "height": 124, "layer": [
        {"data": {"name": "c2"}, "mark": "line", "encoding": {
         "x": {"field": "x", "type": "quantitative", "scale": {"domain": [-0.15, 5.15], "nice": false, "zero": false}, "axis": {"values": [0,1,2,3,4,5], "title": "Years survived"}},
         "y": {"field": "y", "type": "quantitative", "scale": {"domain": [-26, 107.5], "nice": false, "zero": false}, "axis": {"values": [0,20,40,60,80,100], "title": null}},
         "strokeWidth": {"condition": {"test": "datum.s == 'Male'", "value": 2}, "value": 1.6},
         "color": {"field": "s", "type": "nominal", "scale": {"domain": ["Male","Female"], "range": ["#111","#8ea4ab"]}, "legend": {"title": null, "orient": "bottom-left", "offset": 2, "direction": "horizontal", "columns": 2, "columnPadding": 40, "symbolType": "M-1,0H5"}},
         "strokeDash": {"field": "s", "type": "nominal", "scale": {"domain": ["Male","Female"], "range": [[1,0],[1,0]]}, "legend": {"title": null, "orient": "bottom-left", "offset": 2, "direction": "horizontal", "columns": 2, "columnPadding": 40, "symbolType": "M-1,0H5"}}
        }},
        {"data": {"name": "one"}, "mark": {"type": "text", "text": "AYA: All sites", "color": "#1d4f91", "fontSize": 10.5, "align": "center", "baseline": "middle"}, "encoding": {
         "x": {"datum": 2.3, "type": "quantitative", "scale": {"domain": [-0.15, 5.15], "nice": false, "zero": false}, "axis": {"values": [0,1,2,3,4,5], "title": "Years survived"}},
         "y": {"datum": 116, "type": "quantitative", "scale": {"domain": [-26, 107.5], "nice": false, "zero": false}, "axis": {"values": [0,20,40,60,80,100], "title": null}}
        }}
       ]}
      ]},
      {"bounds": "flush", "spacing": 40, "resolve": {"scale": {"color": "independent", "strokeDash": "independent"}}, "hconcat": [
       {"width": 182, "height": 176, "layer": [
        {"data": {"name": "c3"}, "mark": "line", "encoding": {
         "x": {"field": "x", "type": "quantitative", "scale": {"domain": [-0.15, 5.15], "nice": false, "zero": false}, "axis": {"values": [0,1,2,3,4,5], "title": "Years survived"}},
         "y": {"field": "y", "type": "quantitative", "scale": {"domain": [-43, 106.7], "nice": false, "zero": false}, "axis": {"values": [0,20,40,60,80,100], "title": null}},
         "strokeWidth": {"condition": {"test": "indexof(['Leukemia','ALL'], datum.s) >= 0", "value": 2}, "value": 1.6},
         "color": {"field": "s", "type": "nominal", "scale": {"domain": ["Leukemia","ALL","ML","Brain & CNS"], "range": ["#111","#111","#8ea4ab","#8ea4ab"]}, "legend": {"title": null, "orient": "bottom-left", "offset": 2, "direction": "horizontal", "columns": 2, "columnPadding": 10, "symbolType": "M-1,0H5"}},
         "strokeDash": {"field": "s", "type": "nominal", "scale": {"domain": ["Leukemia","ALL","ML","Brain & CNS"], "range": [[1,0],[5,3],[1,0],[5,3]]}, "legend": {"title": null, "orient": "bottom-left", "offset": 2, "direction": "horizontal", "columns": 2, "columnPadding": 10, "symbolType": "M-1,0H5"}}
        }},
        {"data": {"name": "one"}, "mark": {"type": "text", "text": "Children: Both sexes", "color": "#1d4f91", "fontSize": 10.5, "align": "center", "baseline": "middle"}, "encoding": {
         "x": {"datum": 2.5, "type": "quantitative", "scale": {"domain": [-0.15, 5.15], "nice": false, "zero": false}, "axis": {"values": [0,1,2,3,4,5], "title": "Years survived"}},
         "y": {"datum": 113.5, "type": "quantitative", "scale": {"domain": [-43, 106.7], "nice": false, "zero": false}, "axis": {"values": [0,20,40,60,80,100], "title": null}}
        }}
       ]},
       {"width": 182, "height": 176, "layer": [
        {"data": {"name": "c4"}, "mark": "line", "encoding": {
         "x": {"field": "x", "type": "quantitative", "scale": {"domain": [-0.15, 5.15], "nice": false, "zero": false}, "axis": {"values": [0,1,2,3,4,5], "title": "Years survived"}},
         "y": {"field": "y", "type": "quantitative", "scale": {"domain": [-43, 106.7], "nice": false, "zero": false}, "axis": {"values": [0,20,40,60,80,100], "title": null}},
         "strokeWidth": {"condition": {"test": "indexof(['Leukemia','ALL'], datum.s) >= 0", "value": 2}, "value": 1.6},
         "color": {"field": "s", "type": "nominal", "scale": {"domain": ["Leukemia","ALL","ML","Brain & CNS"], "range": ["#111","#111","#8ea4ab","#8ea4ab"]}, "legend": {"title": null, "orient": "bottom-left", "offset": 2, "direction": "horizontal", "columns": 2, "columnPadding": 10, "symbolType": "M-1,0H5"}},
         "strokeDash": {"field": "s", "type": "nominal", "scale": {"domain": ["Leukemia","ALL","ML","Brain & CNS"], "range": [[1,0],[5,3],[1,0],[5,3]]}, "legend": {"title": null, "orient": "bottom-left", "offset": 2, "direction": "horizontal", "columns": 2, "columnPadding": 10, "symbolType": "M-1,0H5"}}
        }},
        {"data": {"name": "one"}, "mark": {"type": "text", "text": "AYA: Both sexes", "color": "#1d4f91", "fontSize": 10.5, "align": "center", "baseline": "middle"}, "encoding": {
         "x": {"datum": 2.3, "type": "quantitative", "scale": {"domain": [-0.15, 5.15], "nice": false, "zero": false}, "axis": {"values": [0,1,2,3,4,5], "title": "Years survived"}},
         "y": {"datum": 113.5, "type": "quantitative", "scale": {"domain": [-43, 106.7], "nice": false, "zero": false}, "axis": {"values": [0,20,40,60,80,100], "title": null}}
        }}
       ]}
      ]}
     ]
    }
   ]
  }
 ]
}
